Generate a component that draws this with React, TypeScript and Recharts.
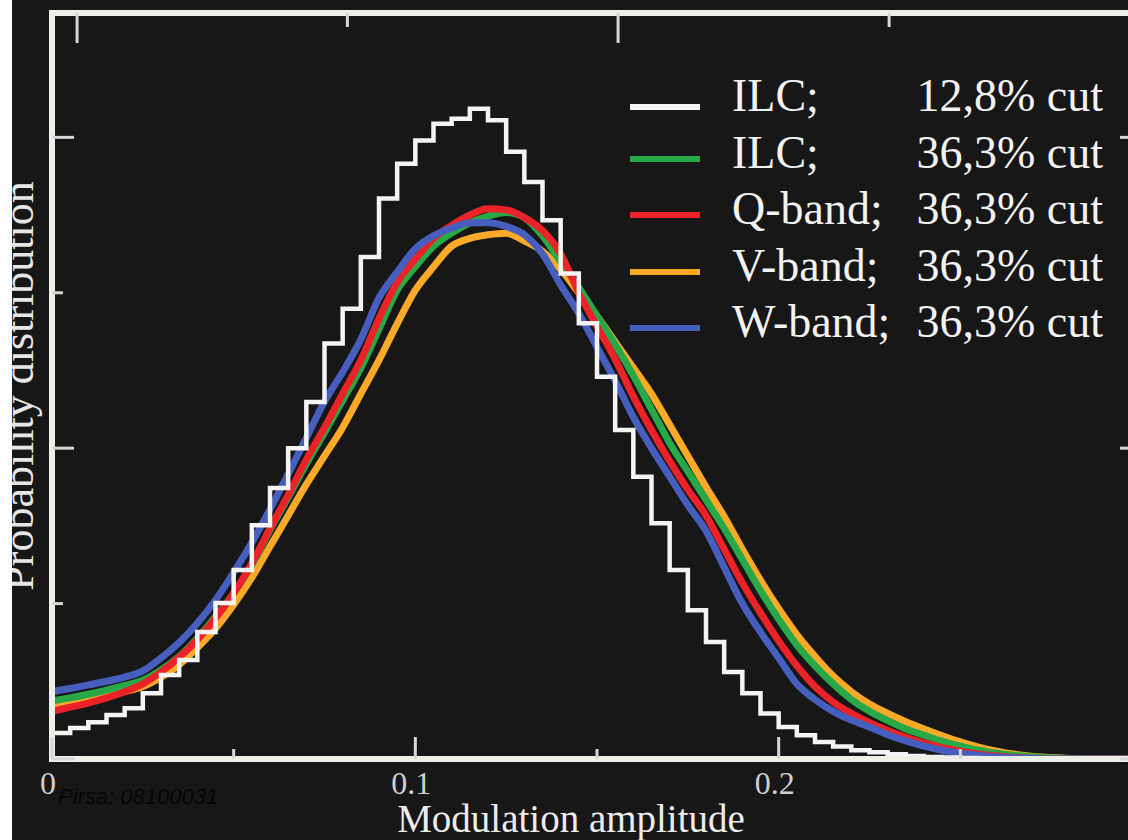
import React from 'react';
import { LineChart, Line, XAxis, YAxis, Legend } from 'recharts';

// modulation amplitude grid (bin edges / sample points)
const amplitude = [
  0, 0.005, 0.01, 0.015, 0.02, 0.025, 0.03, 0.035, 0.04, 0.045,
  0.05, 0.055, 0.06, 0.065, 0.07, 0.075, 0.08, 0.085, 0.09, 0.095,
  0.1, 0.105, 0.11, 0.115, 0.12, 0.125, 0.13, 0.135, 0.14, 0.145,
  0.15, 0.155, 0.16, 0.165, 0.17, 0.175, 0.18, 0.185, 0.19, 0.195,
  0.2, 0.205, 0.21, 0.215, 0.22, 0.225, 0.23, 0.235, 0.24, 0.245,
  0.25, 0.255, 0.26, 0.265, 0.27, 0.275, 0.28, 0.285, 0.29, 0.295, 0.3,
];

const ilc128 = [
  0.5, 0.6, 0.71, 0.85, 0.98, 1.27, 1.62, 1.91, 2.45, 3.01,
  3.65, 4.51, 5.23, 6.0, 6.89, 8.02, 8.69, 9.69, 10.82, 11.49,
  11.94, 12.26, 12.36, 12.55, 12.33, 11.72, 11.14, 10.4, 9.37, 8.41,
  7.38, 6.35, 5.45, 4.55, 3.65, 2.87, 2.26, 1.68, 1.27, 0.88,
  0.62, 0.46, 0.33, 0.24, 0.17, 0.13, 0.09, 0.06, 0.04, 0.03,
  0.02, 0.015, 0.01, 0.01, 0.005, 0, 0, 0, 0, 0, 0,
];

const ilc363 = [
  1.12, 1.18, 1.25, 1.33, 1.42, 1.52, 1.72, 1.98, 2.33, 2.75,
  3.2, 3.75, 4.42, 5.05, 5.7, 6.3, 6.92, 7.55, 8.3, 9.05,
  9.5, 9.9, 10.15, 10.35, 10.48, 10.55, 10.45, 10.1, 9.6, 9.1,
  8.55, 8.0, 7.4, 6.75, 6.1, 5.55, 5.0, 4.45, 3.85, 3.25,
  2.7, 2.2, 1.8, 1.45, 1.15, 0.92, 0.74, 0.58, 0.46, 0.34,
  0.25, 0.17, 0.11, 0.07, 0.04, 0.02, 0.01, 0, 0, 0, 0,
];

const qBand = [
  0.92, 1.0, 1.08, 1.18, 1.3, 1.45, 1.68, 1.96, 2.3, 2.72,
  3.2, 3.78, 4.45, 5.1, 5.78, 6.4, 7.05, 7.7, 8.5, 9.2,
  9.65, 10.05, 10.3, 10.5, 10.62, 10.6, 10.45, 10.2, 9.75, 9.0,
  8.35, 7.72, 7.0, 6.35, 5.75, 5.2, 4.7, 4.05, 3.4, 2.82,
  2.28, 1.8, 1.4, 1.1, 0.88, 0.7, 0.55, 0.42, 0.31, 0.22,
  0.15, 0.09, 0.06, 0.03, 0.01, 0, 0, 0, 0, 0, 0,
];

const vBand = [
  1.05, 1.1, 1.15, 1.22, 1.3, 1.4, 1.58, 1.82, 2.15, 2.52,
  2.98, 3.5, 4.1, 4.7, 5.3, 5.85, 6.4, 7.05, 7.7, 8.4,
  9.05, 9.5, 9.9, 10.05, 10.12, 10.15, 10.0, 9.8, 9.45, 9.0,
  8.55, 8.05, 7.55, 7.05, 6.45, 5.85, 5.25, 4.68, 4.05, 3.45,
  2.9, 2.4, 1.98, 1.6, 1.3, 1.06, 0.88, 0.72, 0.58, 0.45,
  0.33, 0.23, 0.15, 0.09, 0.05, 0.03, 0.01, 0, 0, 0, 0,
];

const wBand = [
  1.3, 1.36, 1.43, 1.5, 1.58, 1.7, 1.95, 2.25, 2.62, 3.07,
  3.6, 4.18, 4.82, 5.5, 6.2, 6.9, 7.47, 8.1, 8.9, 9.4,
  9.85, 10.1, 10.25, 10.35, 10.35, 10.28, 10.12, 9.75, 9.15, 8.6,
  7.95, 7.3, 6.6, 6.0, 5.45, 4.9, 4.4, 3.7, 3.0, 2.45,
  1.95, 1.45, 1.15, 0.92, 0.75, 0.62, 0.47, 0.35, 0.25, 0.17,
  0.11, 0.07, 0.04, 0.02, 0.01, 0, 0, 0, 0, 0, 0,
];

const xTicks = [0, 0.05, 0.1, 0.15, 0.2, 0.25];
const yTicks = [0, 3, 6, 9, 12];
// top frame ticks (long, short, long, short), in amplitude units
const topTicks = [0.0069, 0.0813, 0.1558, 0.2304];

const legendItems = [
  { key: 'ilc128', label: 'ILC;', cut: '12,8% cut', color: '#f4f4f4' },
  { key: 'ilc363', label: 'ILC;', cut: '36,3% cut', color: '#28a846' },
  { key: 'qBand', label: 'Q-band;', cut: '36,3% cut', color: '#eb2328' },
  { key: 'vBand', label: 'V-band;', cut: '36,3% cut', color: '#faaa28' },
  { key: 'wBand', label: 'W-band;', cut: '36,3% cut', color: '#465fbe' },
];

const data = amplitude.map((a, i) => ({
  a,
  ilc128: ilc128[i],
  ilc363: ilc363[i],
  qBand: qBand[i],
  vBand: vBand[i],
  wBand: wBand[i],
}));

const BG = '#171717';
const FRAME = '#efefe9';
const TICK = '#d6d6d6';
const SERIF = '"Liberation Serif", "DejaVu Serif", serif';

const CHART_W = 1160;
const CHART_H = 840;

const colorOf = (key: string) => legendItems.find((s) => s.key === key)!.color;

const frameLine = { stroke: FRAME, strokeWidth: 6, strokeLinecap: 'square' as const };

const BottomTick = ({ x, y, payload }: any) => {
  const major = Math.round(payload.value * 100) % 10 === 0;
  return (
    <g>
      <line x1={x} x2={x} y1={y} y2={y - (major ? 22 : 10)} stroke={TICK} strokeWidth={3} />
      {major && (
        <text x={x - 4} y={y + 35} textAnchor="middle" fill="#cfcfcf" fontSize={32} fontFamily={SERIF}>
          {String(payload.value)}
        </text>
      )}
    </g>
  );
};

const TopTick = ({ x, y, index }: any) => {
  const major = index % 2 === 0;
  return <line x1={x} x2={x} y1={y} y2={y + (major ? 30 : 14)} stroke={TICK} strokeWidth={3} />;
};

const LeftTick = ({ x, y, payload }: any) => {
  const major = payload.value % 6 === 0;
  return <line x1={x} x2={x + (major ? 22 : 11)} y1={y} y2={y} stroke={TICK} strokeWidth={3} />;
};

const RightTick = ({ x, y, payload }: any) => {
  const major = payload.value % 6 === 0;
  return <line x1={x} x2={x - (major ? 22 : 11)} y1={y} y2={y} stroke={TICK} strokeWidth={3} />;
};

const LegendBox = () => (
  <div style={{ fontFamily: SERIF, fontSize: 46, color: '#f2f2f2', width: 483 }}>
    {legendItems.map((s, i) => (
      <div key={s.key} style={{ position: 'relative', height: 56.5, lineHeight: '56.5px' }}>
        <span
          style={{
            position: 'absolute',
            left: 10,
            top: i === 0 ? 36 : 31,
            width: 70,
            height: 6,
            background: s.color,
          }}
        />
        <span style={{ position: 'absolute', left: 112, whiteSpace: 'nowrap' }}>{s.label}</span>
        <span style={{ position: 'absolute', right: 0, whiteSpace: 'nowrap' }}>{s.cut}</span>
      </div>
    ))}
  </div>
);

const seriesOrder = ['vBand', 'ilc363', 'qBand', 'wBand'];

export default function App() {
  return (
    <>
      <style>{'html,body{margin:0;padding:0;overflow:hidden;background:#ffffff}'}</style>
      <div
        style={{
          position: 'fixed',
          left: 0,
          top: 0,
          width: 1128,
          height: 840,
          overflow: 'hidden',
          background: '#ffffff',
        }}
      >
        <div
          style={{
            position: 'absolute',
            left: 12,
            top: 0,
            width: 1116,
            height: 840,
            overflow: 'hidden',
            background: BG,
          }}
        >
          <div style={{ position: 'absolute', left: -12, top: 0, width: CHART_W, height: CHART_H }}>
            <LineChart width={CHART_W} height={CHART_H} data={data} margin={{ top: 12, right: 0, bottom: 0, left: 0 }}>
              <XAxis
                xAxisId="bottom"
                dataKey="a"
                type="number"
                domain={[0, 0.3]}
                allowDataOverflow
                ticks={xTicks}
                interval={0}
                height={81}
                tickSize={0}
                tickMargin={0}
                tickLine={false}
                axisLine={frameLine}
                tick={<BottomTick />}
                label={{
                  value: 'Modulation amplitude',
                  position: 'insideBottom',
                  offset: 8,
                  dx: -26,
                  fill: '#ececec',
                  fontSize: 39,
                  fontFamily: SERIF,
                }}
              />
              <XAxis
                xAxisId="top"
                dataKey="a"
                orientation="top"
                type="number"
                domain={[0, 0.3]}
                allowDataOverflow
                ticks={topTicks}
                interval={0}
                height={1}
                tickSize={0}
                tickMargin={0}
                tickLine={false}
                axisLine={frameLine}
                tick={<TopTick />}
              />
              <YAxis
                yAxisId="left"
                type="number"
                domain={[0, 14.4]}
                allowDataOverflow
                ticks={yTicks}
                interval={0}
                width={52}
                tickSize={0}
                tickMargin={0}
                tickLine={false}
                axisLine={frameLine}
                tick={<LeftTick />}
                label={{
                  value: 'Probability distribution',
                  angle: -90,
                  position: 'center',
                  dx: -9,
                  fill: '#e6e6e6',
                  fontSize: 44,
                  fontFamily: SERIF,
                }}
              />
              <YAxis
                yAxisId="right"
                orientation="right"
                type="number"
                domain={[0, 14.4]}
                allowDataOverflow
                ticks={yTicks}
                interval={0}
                width={18}
                tickSize={0}
                tickMargin={0}
                tickLine={false}
                axisLine={frameLine}
                tick={<RightTick />}
              />
              <Legend
                content={<LegendBox />}
                layout="vertical"
                align="center"
                verticalAlign="middle"
                wrapperStyle={{ left: 620, top: 68, width: 483 }}
              />
              {seriesOrder.map((key) => (
                <Line
                  key={key}
                  xAxisId="bottom"
                  yAxisId="left"
                  dataKey={key}
                  type="monotone"
                  stroke={colorOf(key)}
                  strokeWidth={7}
                  dot={false}
                  activeDot={false}
                  isAnimationActive={false}
                />
              ))}
              <Line
                xAxisId="bottom"
                yAxisId="left"
                dataKey="ilc128"
                type="stepAfter"
                stroke={colorOf('ilc128')}
                strokeWidth={4.5}
                dot={false}
                activeDot={false}
                isAnimationActive={false}
              />
            </LineChart>
            <div
              style={{
                position: 'absolute',
                left: 58,
                top: 786,
                fontFamily: '"Liberation Sans", Arial, sans-serif',
                fontStyle: 'italic',
                fontSize: 22,
                lineHeight: '22px',
                color: '#060606',
                whiteSpace: 'nowrap',
              }}
            >
              Pirsa: 08100031
            </div>
          </div>
        </div>
      </div>
    </>
  );
}
